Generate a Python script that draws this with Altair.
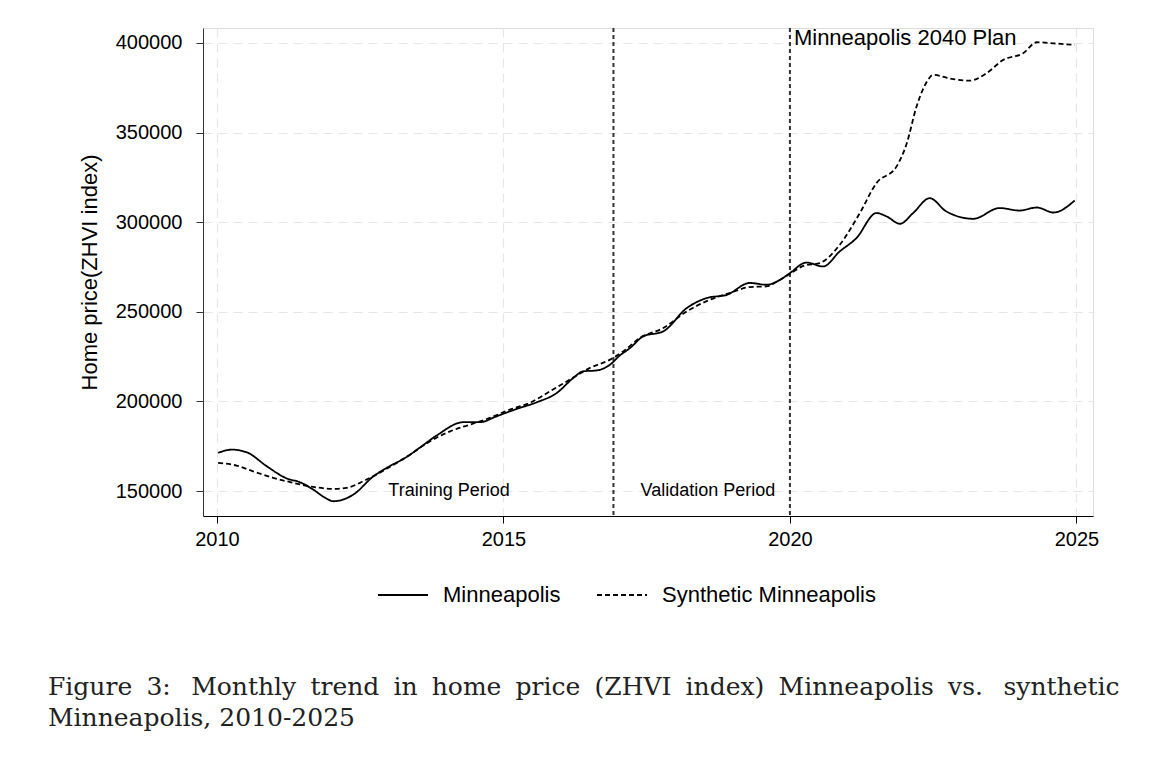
import altair as alt
import pandas as pd

# ---- data ----
mpls_years = [2010.02, 2010.26, 2010.52, 2010.87, 2011.22, 2011.45, 2011.68, 2011.91, 2012.03,
              2012.38, 2012.73, 2012.96, 2013.31, 2013.54, 2013.83, 2014.30, 2014.59, 2014.88,
              2015.23, 2015.58, 2015.93, 2016.22, 2016.39, 2016.63, 2016.86, 2017.03, 2017.21,
              2017.44, 2017.79, 2018.20, 2018.55, 2018.90, 2019.30, 2019.59, 2019.83, 2020.00,
              2020.29, 2020.58, 2020.87, 2021.16, 2021.51, 2021.69, 2021.92, 2022.15, 2022.44,
              2022.73, 2023.20, 2023.66, 2024.01, 2024.31, 2024.60, 2024.97]
mpls_values = [171300, 173100, 171600, 163800, 157000, 154900, 150800, 145800, 144300,
               148000, 158200, 162900, 169000, 174200, 180900, 188400, 188400, 191700,
               195800, 199500, 204700, 213100, 216800, 217300, 220500, 225600, 229800,
               236300, 239100, 252100, 257700, 259500, 266100, 265100, 267900, 271600,
               277500, 275300, 283700, 291100, 305100, 303200, 299100, 305100, 313400,
               306000, 301900, 307900, 306500, 308200, 305400, 312100]

synth_years = [2010.02, 2010.34, 2010.63, 2010.98, 2011.33, 2011.68, 2012.03, 2012.26, 2012.61,
               2012.96, 2013.33, 2013.72, 2014.07, 2014.42, 2014.76, 2015.11, 2015.46, 2015.81,
               2016.16, 2016.51, 2016.86, 2017.09, 2017.38, 2017.79, 2018.20, 2018.60, 2018.95,
               2019.30, 2019.59, 2019.83, 2020.00, 2020.25, 2020.52, 2020.87, 2021.22, 2021.51,
               2021.86, 2022.04, 2022.21, 2022.39, 2022.50, 2022.85, 2023.14, 2023.43, 2023.72,
               2024.07, 2024.31, 2024.60, 2024.97]
synth_values = [165700, 164200, 161000, 157400, 154600, 152300, 151200, 151800, 156400,
                162400, 169500, 177800, 183300, 187100, 190800, 195400, 199200, 205600,
                212200, 218700, 223300, 227900, 235400, 241000, 250200, 256700, 260500,
                263800, 264200, 267900, 271200, 275800, 277200, 287400, 305100, 321800,
                331000, 344100, 364500, 378400, 382200, 379800, 379000, 383100, 390500,
                394300, 400400, 399800, 398900]

series_names = ["Minneapolis", "Synthetic Minneapolis"]
x_ticks = [2010, 2015, 2020, 2025]
y_ticks = [150000, 200000, 250000, 300000, 350000, 400000]
event_years = [2016.92, 2020.0]
period_labels = ["Training Period", "Validation Period"]
period_x = [2014.05, 2018.57]
period_y = [150000, 150000]
plan_label = ["Minneapolis 2040 Plan"]
plan_x = [2020.0]
plan_y = [402800]
# justified first line (wider word gaps, as in the typeset caption)
caption_line1 = ["Figure", "3:\u2005", "Monthly", "trend", "in", "home", "price", "(ZHVI", "index)",
                 "Minneapolis", "vs.\u2005", "synthetic"]
caption_line2 = "Minneapolis, 2010-2025"
caption = " \u2005".join(caption_line1) + "\n" + caption_line2

# ---- tables ----
df = pd.concat([
    pd.DataFrame({"year": mpls_years, "value": mpls_values, "series": series_names[0]}),
    pd.DataFrame({"year": synth_years, "value": synth_values, "series": series_names[1]}),
])
ev = pd.DataFrame({"year": event_years})
pl = pd.DataFrame({"year": period_x, "value": period_y, "label": period_labels})
pn = pd.DataFrame({"year": plan_x, "value": plan_y, "label": plan_label})
cap = pd.DataFrame({"text": [caption]})

FONT = "Liberation Sans"
xscale = alt.Scale(domain=[2009.756, 2025.29], nice=False, zero=False)
yscale = alt.Scale(domain=[136065, 408361], nice=False, zero=False)

xaxis = alt.Axis(values=x_ticks, format="d", title=None, labelFontSize=20, labelFont=FONT,
                 labelColor="black", tickSize=7, tickColor="black", domainColor="black",
                 labelPadding=6, grid=True, gridColor="#e6e6e6", gridDash=[9, 6],
                 gridWidth=1.2)
yaxis = alt.Axis(values=y_ticks, format="d", title="Home price(ZHVI index)", labelFontSize=20,
                 labelFont=FONT, labelColor="black", tickSize=7, tickColor="#333",
                 domainColor="#333", labelPadding=14, titleFontSize=22, titleFont=FONT,
                 titleFontWeight="normal", titleColor="black", titlePadding=14,
                 grid=True, gridColor="#e6e6e6", gridDash=[9, 6], gridWidth=1.2)

lines = alt.Chart(df).mark_line(color="black", strokeWidth=1.8, interpolate="monotone").encode(
    x=alt.X("year:Q", scale=xscale, axis=xaxis),
    y=alt.Y("value:Q", scale=yscale, axis=yaxis),
    strokeDash=alt.StrokeDash(
        "series:N",
        scale=alt.Scale(domain=series_names, range=[[1, 0], [5, 3]]),
        legend=alt.Legend(title=None, orient="none", legendX=174, legendY=541,
                          direction="horizontal", symbolType="stroke", symbolSize=2500,
                          symbolStrokeWidth=1.8, symbolStrokeColor="black",
                          labelFontSize=22, labelFont=FONT, labelColor="black",
                          labelOffset=14, columnPadding=32, labelLimit=400),
    ),
    detail="series:N",
)

rules = alt.Chart(ev).mark_rule(color="#333", strokeWidth=2, strokeDash=[4, 3]).encode(
    x=alt.X("year:Q", scale=xscale)
)

period_text = alt.Chart(pl).mark_text(fontSize=18, font=FONT, color="black",
                                      align="center", baseline="middle").encode(
    x=alt.X("year:Q", scale=xscale), y=alt.Y("value:Q", scale=yscale), text="label:N")

plan_text = alt.Chart(pn).mark_text(fontSize=22, font=FONT, color="black", align="left",
                                    baseline="middle", dx=4).encode(
    x=alt.X("year:Q", scale=xscale), y=alt.Y("value:Q", scale=yscale), text="label:N")

cap_text = alt.Chart(cap).mark_text(fontSize=25, font="DejaVu Serif", color="#222",
                                    fontWeight=300,
                                    align="left", baseline="middle", lineBreak="\n",
                                    lineHeight=31).encode(
    x=alt.value(-155), y=alt.value(659), text="text:N")

chart = alt.layer(rules, lines, period_text, plan_text, cap_text).properties(
    width=890, height=488,
    autosize=alt.AutoSizeParams(type="none"),
    padding={"left": 195, "top": 20, "right": 60, "bottom": 240},
).configure_view(stroke=None).configure(background="white")

chart.save("out.html", embed_options={"renderer": "svg", "actions": False})
